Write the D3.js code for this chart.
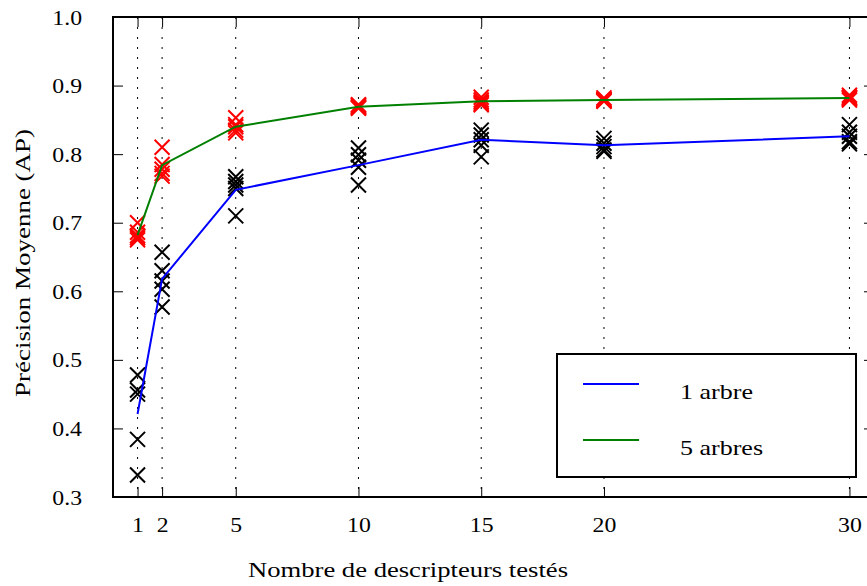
<!DOCTYPE html>
<html>
<head>
<meta charset="utf-8">
<script src="https://cdn.jsdelivr.net/npm/d3@7"></script>
<style>
  html, body { margin: 0; padding: 0; background: #fff; }
  svg { display: block; }
  text { font-family: "Liberation Serif", "DejaVu Serif", serif; fill: #000; }
  .ylab { transform-box: fill-box; transform-origin: right center; transform: scaleX(1.08); }
  .xlab { transform-box: fill-box; transform-origin: center center; transform: scaleX(1.08); }
</style>
</head>
<body>
<svg id="chart" width="867" height="586"></svg>
<script>
// Number of descriptors tested (x positions)
const descripteurs = [1, 2, 5, 10, 15, 20, 30];
const xTicks = [1, 2, 5, 10, 15, 20, 30];
const yTicks = [0.3, 0.4, 0.5, 0.6, 0.7, 0.8, 0.9, 1.0];

// Average precision of each individual run, one tree
const runs1arbre = [
  [0.478, 0.456, 0.450, 0.384, 0.332],
  [0.657, 0.630, 0.615, 0.603, 0.577],
  [0.767, 0.760, 0.755, 0.750, 0.710],
  [0.809, 0.799, 0.791, 0.781, 0.755],
  [0.835, 0.828, 0.821, 0.813, 0.796],
  [0.823, 0.816, 0.811, 0.806, 0.804],
  [0.843, 0.832, 0.826, 0.818, 0.815]
];
// Average precision of each individual run, five trees
const runs5arbres = [
  [0.700, 0.686, 0.681, 0.678, 0.675],
  [0.810, 0.785, 0.778, 0.772, 0.768],
  [0.853, 0.843, 0.840, 0.835, 0.831],
  [0.872, 0.871, 0.869, 0.868, 0.867],
  [0.883, 0.879, 0.876, 0.874, 0.872],
  [0.882, 0.880, 0.879, 0.878, 0.877],
  [0.886, 0.883, 0.882, 0.881, 0.879]
];
// Mean curves
const moyenne1arbre = [0.421, 0.618, 0.748, 0.784, 0.821, 0.813, 0.826];
const moyenne5arbres = [0.682, 0.784, 0.840, 0.869, 0.877, 0.879, 0.882];

const seriesNames = ["1 arbre", "5 arbres"];
const seriesColors = ["#0000ff", "#008000"];
const markerColors = ["#000000", "#ff0000"];

const svg = d3.select("#chart");
const m = { left: 113, top: 17, right: 874, bottom: 497 };
const FS = 22;

const x = d3.scaleLinear().domain([0, 31]).range([m.left, m.right]);
const y = d3.scaleLinear().domain([0.3, 1.0]).range([m.bottom, m.top]);

// dotted vertical grid
svg.append("g").selectAll("line").data(xTicks).join("line")
  .attr("x1", d => x(d)).attr("x2", d => x(d))
  .attr("y1", m.top).attr("y2", m.bottom)
  .attr("stroke", "#000").attr("stroke-width", 1)
  .attr("stroke-dasharray", "2,8");

// axes with inward ticks
const fmt = d3.format(".1f");
const axB = svg.append("g").attr("transform", `translate(0,${m.bottom})`)
  .call(d3.axisBottom(x).tickValues(xTicks).tickSizeInner(-10).tickSizeOuter(0).tickPadding(19));
const axT = svg.append("g").attr("transform", `translate(0,${m.top})`)
  .call(d3.axisTop(x).tickValues(xTicks).tickSizeInner(-10).tickSizeOuter(0).tickFormat(""));
const axL = svg.append("g").attr("transform", `translate(${m.left},0)`)
  .call(d3.axisLeft(y).tickValues(yTicks).tickSizeInner(-10).tickSizeOuter(0).tickPadding(31).tickFormat(fmt));
const axR = svg.append("g").attr("transform", `translate(${m.right},0)`)
  .call(d3.axisRight(y).tickValues(yTicks).tickSizeInner(-10).tickSizeOuter(0).tickFormat(""));

[axB, axT, axL, axR].forEach(g => {
  g.select(".domain").remove();
  g.selectAll(".tick line").attr("stroke", "#000").attr("stroke-width", 1);
  g.selectAll("text").attr("font-size", FS)
    .attr("font-family", '"Liberation Serif", "DejaVu Serif", serif').attr("fill", "#000");
});
axB.selectAll("text").attr("dy", "0.71em").attr("class", "xlab");
axL.selectAll("text").attr("class", "ylab");

// individual runs as crosses
const crossPath = (cx, cy, r) =>
  `M${cx - r},${cy - r}L${cx + r},${cy + r}M${cx - r},${cy + r}L${cx + r},${cy - r}`;

[runs1arbre, runs5arbres].forEach((runs, si) => {
  const pts = [];
  runs.forEach((vals, i) => vals.forEach(v => pts.push([descripteurs[i], v])));
  svg.append("g").selectAll("path").data(pts).join("path")
    .attr("d", d => crossPath(x(d[0]), y(d[1]), 7.5))
    .attr("stroke", markerColors[si]).attr("stroke-width", 2)
    .attr("fill", "none");
});

// mean curves
const line = d3.line().x(d => x(d[0])).y(d => y(d[1]));
[moyenne1arbre, moyenne5arbres].forEach((vals, si) => {
  svg.append("path")
    .datum(descripteurs.map((d, i) => [d, vals[i]]))
    .attr("d", line)
    .attr("fill", "none").attr("stroke", seriesColors[si]).attr("stroke-width", 2);
});

// frame
svg.append("rect")
  .attr("x", m.left).attr("y", m.top)
  .attr("width", m.right - m.left).attr("height", m.bottom - m.top)
  .attr("fill", "none").attr("stroke", "#000").attr("stroke-width", 2);

// legend
const legendWidths = [73, 83];
const lg = svg.append("g");
lg.append("rect").attr("x", 557).attr("y", 354).attr("width", 299).attr("height", 123)
  .attr("fill", "#fff").attr("stroke", "#000").attr("stroke-width", 2);
seriesNames.forEach((name, i) => {
  const ly = 384 + i * 56;
  lg.append("line").attr("x1", 583).attr("x2", 639).attr("y1", ly).attr("y2", ly)
    .attr("stroke", seriesColors[i]).attr("stroke-width", 2);
  lg.append("text").attr("x", 680).attr("y", ly + 15)
    .attr("font-size", FS)
    .attr("textLength", legendWidths[i]).attr("lengthAdjust", "spacingAndGlyphs")
    .text(name);
});

// axis titles
svg.append("text")
  .attr("x", 408).attr("y", 577)
  .attr("text-anchor", "middle").attr("font-size", FS)
  .attr("textLength", 320).attr("lengthAdjust", "spacingAndGlyphs")
  .text("Nombre de descripteurs testés");
svg.append("g")
  .attr("transform", `translate(30,${(m.top + m.bottom) / 2 + 6}) rotate(-90)`)
  .append("text")
  .attr("text-anchor", "middle").attr("font-size", FS)
  .attr("textLength", 268).attr("lengthAdjust", "spacingAndGlyphs")
  .text("Précision Moyenne (AP)");
</script>
</body>
</html>
